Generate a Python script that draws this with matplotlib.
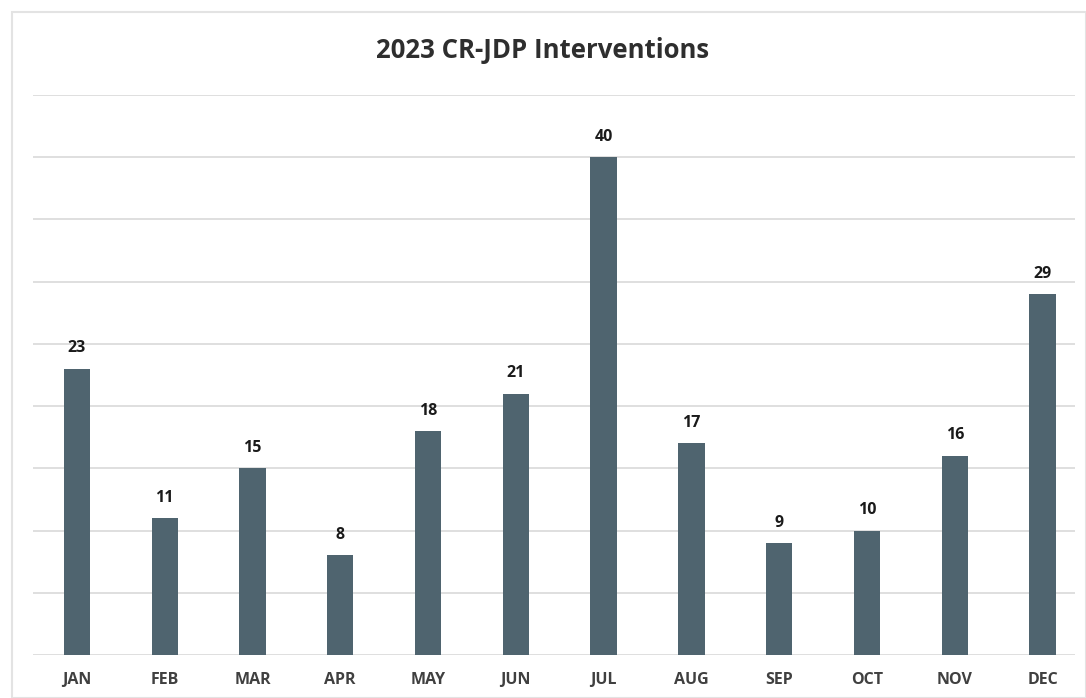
import matplotlib.pyplot as plt
from matplotlib.patches import Rectangle

months = ["JAN", "FEB", "MAR", "APR", "MAY", "JUN", "JUL", "AUG", "SEP", "OCT", "NOV", "DEC"]
interventions = [23, 11, 15, 8, 18, 21, 40, 17, 9, 10, 16, 29]

plt.rcParams["font.family"] = ["Open Sans", "DejaVu Sans"]

fig = plt.figure(figsize=(10.86, 6.98), dpi=100)
W, H = 1086, 698

# chart frame
fig.patches.append(Rectangle((12 / W, 0), 1 - 12 / W, 1 - 12 / H, transform=fig.transFigure,
                             fill=False, edgecolor="#e3e3e3", linewidth=1.5))

ax = fig.add_axes([33 / W, (H - 655) / H, (1075 - 33) / W, (655 - 95) / H])
x = list(range(len(months)))
ax.bar(x, interventions, width=0.3, color="#4f646f", zorder=3)

for xi, v in zip(x, interventions):
    ax.text(xi, v + 1.0, str(v), ha="center", va="bottom", fontsize=11.5,
            fontweight="bold", color="#1a1a1a")

ax.set_ylim(0, 45)
ax.set_xlim(-0.5, 11.37)
ax.set_yticks(range(0, 46, 5))
ax.set_yticklabels([])
ax.tick_params(axis="y", length=0)
ax.tick_params(axis="x", length=0, pad=12)
ax.set_xticks(x)
ax.set_xticklabels(months, fontsize=11.5, fontweight="bold", color="#404040")
ax.grid(axis="y", color="#d9d9d9", linewidth=1.2, zorder=0)
for s in ax.spines.values():
    s.set_visible(False)

fig.text(0.5, (H - 50) / H, "2023 CR-JDP Interventions", ha="center", va="center",
         fontsize=18.5, fontweight="bold", color="#2e2e2e")

fig.savefig("out.png", dpi=100, facecolor="white")
